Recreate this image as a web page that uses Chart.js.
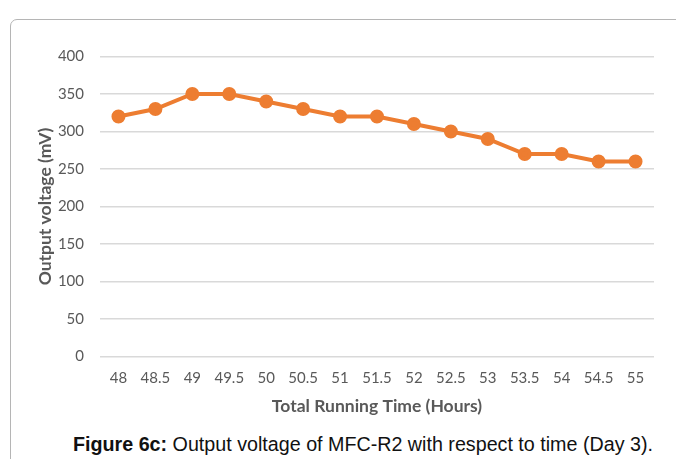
<!DOCTYPE html>
<html>
<head>
<meta charset="utf-8">
<script src="https://cdn.jsdelivr.net/npm/chart.js@4/dist/chart.umd.min.js"></script>
<style>
  body { margin: 0; background: #fff; }
  #wrap { position: relative; width: 676px; height: 459px; overflow: hidden; }
  #frame {
    position: absolute; left: 10px; top: 19px; width: 700px; height: 500px;
    border: 1px solid #b5b5b5; border-top-left-radius: 7px;
  }
  #box { position: absolute; left: 0; top: 0; width: 676px; height: 430px; }
  #caption {
    position: absolute; left: 0; width: 726px; top: 434px; text-align: center;
    font-family: "Liberation Sans", Arial, sans-serif;
    font-size: 19.7px; line-height: 20px; color: #111; white-space: nowrap;
  }
</style>
</head>
<body>
<div id="wrap">
  <div id="frame"></div>
  <div id="box"><canvas id="voltChart"></canvas></div>
  <div id="caption"><b>Figure 6c:</b> Output voltage of MFC-R2 with respect to time (Day 3).</div>
</div>
<script>
// hours on the x axis
const hours = ['48', '48.5', '49', '49.5', '50', '50.5', '51', '51.5', '52', '52.5', '53', '53.5', '54', '54.5', '55'];
// output voltage in mV
const voltage = [320, 330, 350, 350, 340, 330, 320, 320, 310, 300, 290, 270, 270, 260, 260];

const orange = '#ed7d31';
const tickGrey = '#595959';

const ctx = document.getElementById('voltChart').getContext('2d');

// note: chart.js reserves the tick padding twice when sizing an axis,
// so the title paddings below are pulled in to get the spacing right
const voltChart = new Chart(ctx, {
  type: 'line',
  data: {
    labels: hours,
    datasets: [{
      label: 'Output voltage',
      data: voltage,
      borderColor: orange,
      backgroundColor: orange,
      borderWidth: 4,
      pointRadius: 5,
      pointBackgroundColor: orange,
      pointBorderColor: orange,
      tension: 0,
    }],
  },
  options: {
    responsive: true,
    maintainAspectRatio: false,
    animation: false,
    layout: {
      padding: { left: 34.5, right: 22, top: 56.5, bottom: 9.5 },
    },
    plugins: {
      legend: { display: false },
      tooltip: { enabled: false },
    },
    scales: {
      x: {
        offset: true,
        grid: { display: false, drawTicks: false },
        border: { display: false },
        ticks: {
          color: tickGrey,
          padding: 13,
          maxRotation: 0,
          autoSkip: false,
          font: { family: 'Lato', size: 15 },
        },
        title: {
          display: true,
          text: 'Total Running Time (Hours)',
          color: tickGrey,
          padding: { top: -5, bottom: 4 },
          font: { family: 'Lato', size: 17.5, weight: 'bold' },
        },
      },
      y: {
        min: 0,
        max: 400,
        border: { display: false },
        grid: { color: '#d9d9d9', lineWidth: 1.5, drawTicks: false },
        ticks: {
          stepSize: 50,
          color: tickGrey,
          padding: 16,
          font: { family: 'Lato', size: 15 },
        },
        title: {
          display: true,
          text: 'Output voltage (mV)',
          color: tickGrey,
          padding: { top: 0, bottom: -13.6 },
          font: { family: 'Lato', size: 17.5, weight: 'bold' },
        },
      },
    },
  },
});
</script>
</body>
</html>
